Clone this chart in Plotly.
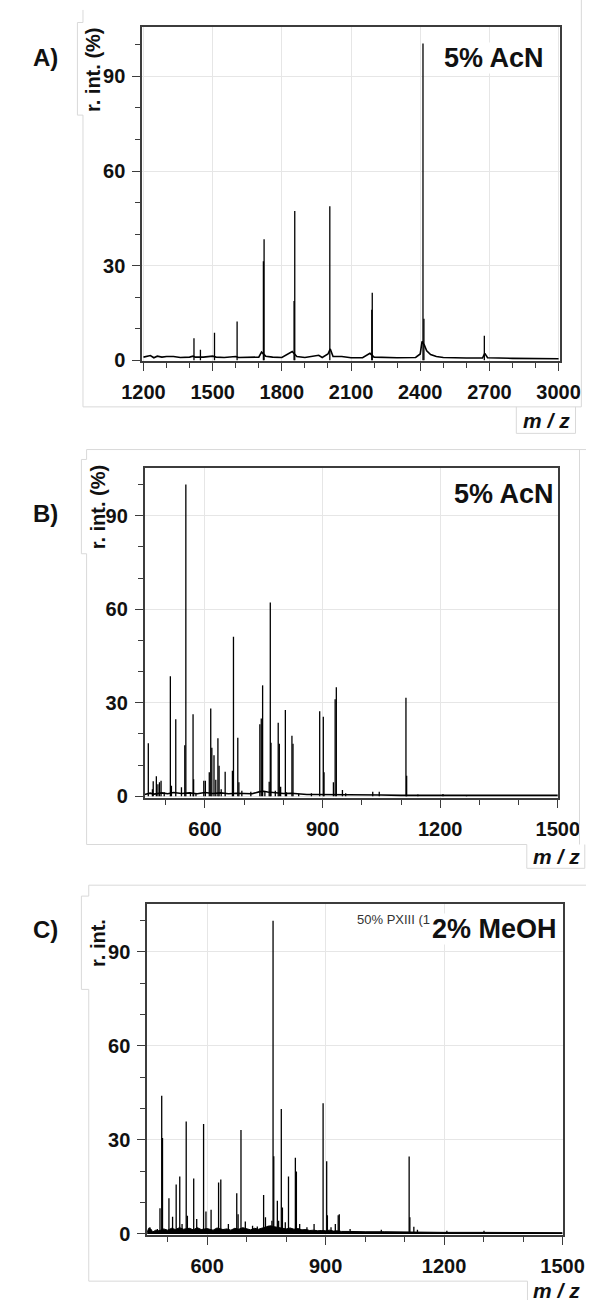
import plotly.graph_objects as go

W, H = 608, 1310

# ---------------- Panel A: 5% AcN, m/z 1200-3000 ----------------
peaks_A_mz = [1419, 1447, 1508, 1606, 1720, 1723, 1853, 1856, 2008, 2190, 2192, 2412, 2416, 2678]
peaks_A_int = [7.0, 3.3, 8.7, 12.3, 31.4, 38.4, 18.8, 47.3, 48.8, 16.0, 21.4, 100.4, 13.2, 7.8]
base_A_mz = [1200, 1215, 1230, 1245, 1260, 1280, 1300, 1330, 1360, 1400, 1415, 1425, 1460, 1500, 1515,
             1550, 1600, 1612, 1660, 1700, 1712, 1730, 1760, 1800, 1845, 1865, 1900, 1960, 1975, 2000,
             2010, 2022, 2060, 2100, 2150, 2182, 2200, 2300, 2380, 2400, 2408, 2418, 2428, 2445, 2470,
             2500, 2600, 2670, 2680, 2692, 2800, 2900, 3000]
base_A_int = [1.0, 1.3, 1.5, 0.8, 1.3, 1.0, 1.2, 1.2, 0.9, 1.0, 1.3, 1.0, 1.0, 1.3, 1.0,
              0.9, 1.2, 0.9, 1.0, 1.0, 2.6, 1.3, 1.0, 0.9, 2.8, 1.2, 0.9, 1.6, 0.9, 2.0,
              3.6, 1.2, 1.2, 0.8, 0.8, 2.2, 1.0, 0.8, 0.9, 2.0, 6.0, 4.8, 3.0, 1.8, 1.2,
              0.9, 0.7, 0.7, 2.2, 0.8, 0.6, 0.5, 0.5]

# ---------------- Panel B: 5% AcN, m/z 450-1500 ----------------
peaks_B_mz = [455.5, 466, 468, 476, 480, 484, 488, 496, 511.7, 514.4, 525.5, 540, 548.5, 551.2, 563,
              569.6, 571, 577, 597, 601, 611, 614.7, 617.5, 623, 627.6, 633, 636, 641.4, 651.5, 670,
              672.7, 683.7, 686.5, 694, 717, 740, 743.6, 747, 752.8, 763.8, 766.6, 768.4, 779.4, 786.8,
              789.6, 793, 805, 808, 821.8, 824.5, 839, 871.5, 892.6, 901.8, 903.7, 927.6, 932, 935,
              950.6, 958.9, 1027.9, 1044.5, 1112.6, 1114.4, 1143, 1207, 1267]
peaks_B_int = [17.0, 2.3, 4.8, 6.4, 3.9, 4.5, 5.0, 1.3, 38.5, 3.4, 24.7, 2.9, 16.4, 100.0, 1.3,
               26.3, 5.5, 1.0, 5.0, 5.0, 7.7, 28.2, 15.6, 13.2, 5.3, 18.6, 9.8, 2.3, 7.9, 8.2,
               51.2, 18.8, 4.5, 1.8, 1.5, 23.1, 25.0, 35.6, 1.5, 4.7, 62.2, 17.2, 1.8, 23.6,
               16.9, 3.1, 27.7, 1.3, 19.4, 16.9, 0.7, 1.0, 27.3, 25.5, 7.7, 4.5, 31.1, 35.0,
               2.0, 1.0, 1.5, 1.5, 31.6, 6.6, 0.6, 0.7, 0.4]
base_B_mz = [446, 460, 470, 490, 505, 520, 540, 560, 580, 600, 620, 640, 660, 680, 700, 720, 740, 750,
             760, 780, 800, 820, 840, 860, 880, 900, 920, 940, 960, 1000, 1050, 1100, 1200, 1300, 1500]
base_B_int = [0.6, 1.0, 0.7, 1.1, 0.8, 1.2, 0.9, 1.1, 0.8, 1.2, 0.9, 1.1, 0.8, 1.0, 0.9, 0.8, 1.5, 1.6,
              1.4, 1.1, 0.9, 1.0, 0.7, 0.6, 0.6, 0.6, 0.5, 0.6, 0.5, 0.4, 0.4, 0.3, 0.3, 0.3, 0.3]

# ---------------- Panel C: 2% MeOH, m/z 450-1500 ----------------
peaks_C_mz = [455, 474, 480.6, 485, 487, 503.3, 512.5, 521.6, 530.7, 536.5, 547, 550, 566, 573.6, 591,
              597, 610, 629, 634.6, 653.8, 675, 678.4, 685.7, 696.7, 715, 727, 743, 747.7, 754.6, 764,
              766.9, 768.7, 777.8, 781, 787.8, 790.6, 797.9, 806, 823.4, 826, 834.3, 852.7, 870.8, 893.6,
              902.7, 904.5, 913.7, 924.6, 931.9, 934.6, 962, 1041, 1111.5, 1113.3, 1123.4, 1132.5,
              1207, 1301]
peaks_C_int = [2.1, 1.6, 8.2, 44.1, 30.6, 11.4, 5.5, 15.8, 18.3, 3.2, 35.9, 5.8, 17.7, 4.8, 35.1,
               7.2, 7.7, 16.4, 17.4, 3.2, 13.0, 6.3, 33.2, 4.0, 2.6, 2.4, 12.4, 5.3, 2.6, 4.2,
               100.0, 24.8, 10.6, 4.2, 39.9, 8.4, 3.7, 18.3, 24.3, 19.9, 3.2, 2.1, 3.2, 41.7,
               23.2, 6.0, 2.1, 3.2, 6.0, 6.3, 1.6, 1.3, 24.7, 5.3, 2.3, 1.3,
               1.0, 1.0]
base_C_mz = [448, 452, 458, 462, 470, 478, 490, 500, 510, 520, 530, 540, 555, 565, 575, 585, 600, 615,
             625, 640, 650, 660, 670, 680, 690, 700, 710, 720, 730, 740, 750, 760, 770, 780, 790, 800,
             810, 820, 830, 840, 850, 860, 870, 880, 890, 900, 910, 920, 930, 940, 960, 980, 1000,
             1050, 1100, 1150, 1200, 1300, 1400, 1500]
base_C_int = [0.5, 1.8, 1.5, 0.6, 1.2, 1.0, 1.6, 1.2, 1.8, 1.4, 2.0, 1.5, 1.8, 1.3, 2.0, 1.4, 1.7, 1.2,
              1.9, 1.4, 1.6, 1.2, 1.8, 1.5, 2.0, 1.6, 1.3, 1.8, 1.5, 1.9, 2.2, 2.6, 2.3, 2.0, 1.8, 1.6,
              1.9, 1.5, 1.7, 1.3, 1.4, 1.1, 1.2, 1.0, 1.1, 1.0, 1.2, 0.9, 1.0, 0.8, 0.8, 0.7, 0.7,
              0.7, 0.6, 0.6, 0.5, 0.5, 0.5, 0.4]

# ticks
y_major = 30
y_minor = 10
x_major = 300
x_minor = 100

FONT = "Liberation Sans, Arial, Helvetica, sans-serif"
FRAME = "#3c3c3c"
GRID = "#e6e6e6"
DECOR = "#d9d9d9"


def px(x):
    return x / W


def py(y):
    return 1 - y / H


def sticks(mz, inten):
    xs, ys = [], []
    for m, h in zip(mz, inten):
        xs += [m, m, None]
        ys += [0, h, None]
    return xs, ys


panels = [
    dict(xr=[1194, 3006], yr=[-0.3, 105.5], xd=(130.3, 580.0), yd=(27.7, 364.0), tick0=1200,
         peaks=(peaks_A_mz, peaks_A_int), base=(base_A_mz, base_A_int), fill=False),
    dict(xr=[446, 1500], yr=[-0.5, 105.3], xd=(133.0, 577.7), yd=(471.7, 804.0), tick0=0,
         peaks=(peaks_B_mz, peaks_B_int), base=(base_B_mz, base_B_int), fill=False),
    dict(xr=[448, 1500], yr=[-0.5, 105.3], xd=(135.7, 582.8), yd=(911.0, 1245.0), tick0=0,
         peaks=(peaks_C_mz, peaks_C_int), base=(base_C_mz, base_C_int), fill=True),
]

fig = go.Figure()
layout = dict(
    width=W, height=H, margin=dict(l=0, r=0, t=0, b=0),
    paper_bgcolor="white", plot_bgcolor="white", showlegend=False,
    font=dict(family=FONT, color="#111"),
)

for i, p in enumerate(panels):
    sfx = "" if i == 0 else str(i + 1)
    xa, ya = "x" + sfx, "y" + sfx
    bx, by = p["base"]
    fig.add_trace(go.Scatter(
        x=bx, y=by, mode="lines", xaxis=xa, yaxis=ya,
        line=dict(color="#000", width=1.6 if not p["fill"] else 1.0),
        fill="tozeroy" if p["fill"] else None, fillcolor="#000", hoverinfo="skip"))
    sx, sy = sticks(*p["peaks"])
    fig.add_trace(go.Scatter(
        x=sx, y=sy, mode="lines", xaxis=xa, yaxis=ya,
        line=dict(color="#000", width=1.3), hoverinfo="skip"))

    layout["xaxis" + sfx] = dict(
        domain=[px(p["xd"][0]), px(p["xd"][1])], range=p["xr"], anchor=ya,
        showline=True, linecolor=FRAME, linewidth=1.6, mirror=True,
        ticks="outside", ticklen=8, tickwidth=1.4, tickcolor=FRAME,
        tick0=p["tick0"], dtick=x_major,
        minor=dict(dtick=x_minor, tick0=p["tick0"], ticks="outside", ticklen=5,
                   tickwidth=1.2, tickcolor=FRAME, showgrid=False),
        showgrid=True, gridcolor=GRID, gridwidth=1, zeroline=False,
        tickfont=dict(family=FONT, size=20, color="#111", weight="bold"),
        ticklabelstandoff=4,
    )
    layout["yaxis" + sfx] = dict(
        domain=[py(p["yd"][1]), py(p["yd"][0])], range=p["yr"], anchor=xa,
        showline=True, linecolor=FRAME, linewidth=1.6, mirror=True,
        ticks="outside", ticklen=8, tickwidth=1.4, tickcolor=FRAME,
        tick0=0, dtick=y_major,
        minor=dict(dtick=y_minor, tick0=0, ticks="outside", ticklen=5,
                   tickwidth=1.2, tickcolor=FRAME, showgrid=False),
        showgrid=True, gridcolor=GRID, gridwidth=1, zeroline=False,
        tickfont=dict(family=FONT, size=20, color="#111", weight="bold"),
        ticklabelstandoff=3,
    )

annotations = []


def txt(text, x, y, size, angle=0, bg=None, italic=False, bold=True, color="#111",
        xanchor="center", family=FONT):
    d = dict(text=text, x=px(x), y=py(y), xref="paper", yref="paper", showarrow=False,
             xanchor=xanchor, yanchor="middle", textangle=angle,
             font=dict(family=family, size=size, color=color,
                       weight="bold" if bold else "normal",
                       style="italic" if italic else "normal"))
    if bg:
        d["bgcolor"] = bg
        d["borderpad"] = 0
    annotations.append(d)


# panel letters
txt("A)", 26, 58, 24)
txt("B)", 26, 517, 24)
txt("C)", 26, 937, 24)
# axis titles
txt("r. int. (%)", 78, 70, 20, angle=-90)
txt("r. int. (%)", 83, 511, 20, angle=-90)
txt("r. int.", 83, 950, 20, angle=-90)
txt("m / z", 565, 424, 21, italic=True)
txt("m / z", 576, 863, 21, italic=True)
txt("m / z", 576, 1300, 21, italic=True)
# condition labels
txt("50% PXIII (1", 442, 927, 13, bold=False, color="#333", xanchor="right")
txt("5% AcN", 509, 58, 27, bg="white")
txt("5% AcN", 519.5, 498, 27, bg="white")
txt("2% MeOH", 510, 936, 27, bg="white")

layout["annotations"] = annotations

# light frame lines around each panel (as in the reference image)
shapes = []


def seg(x0, y0, x1, y1):
    shapes.append(dict(type="line", xref="paper", yref="paper",
                       x0=px(x0), y0=py(y0), x1=px(x1), y1=py(y1),
                       line=dict(color=DECOR, width=1)))


# panel A
seg(66.7, 10, 66.7, 22.7); seg(66.7, 116, 66.7, 410); seg(66.7, 410, 603, 410); seg(603, 0, 603, 410)
seg(60.7, 22.7, 60.7, 116); seg(60.7, 22.7, 66.7, 22.7); seg(60.7, 116, 66.7, 116)
seg(533, 410, 533, 436.7); seg(533, 436.7, 596.7, 436.7); seg(596.7, 410, 596.7, 436.7)
# panel B
seg(70.6, 453, 608, 453); seg(70.6, 453, 70.6, 463); seg(70.6, 558, 70.6, 851); seg(70.6, 851, 544.3, 851)
seg(601, 453, 601, 851)
seg(65, 463, 65, 558); seg(65, 463, 70.6, 463); seg(65, 558, 70.6, 558)
seg(544.3, 851, 544.3, 875); seg(544.3, 875, 606.7, 875); seg(606.7, 851, 606.7, 875)
# panel C
seg(72.9, 892, 608, 892); seg(72.9, 892, 72.9, 903); seg(72.9, 997, 72.9, 1291); seg(72.9, 1291, 545, 1291)
seg(65, 903, 65, 997); seg(65, 903, 72.9, 903); seg(65, 997, 72.9, 997)
seg(545, 1291, 545, 1310)

layout["shapes"] = shapes
fig.update_layout(**layout)
fig.write_html("out.html")
